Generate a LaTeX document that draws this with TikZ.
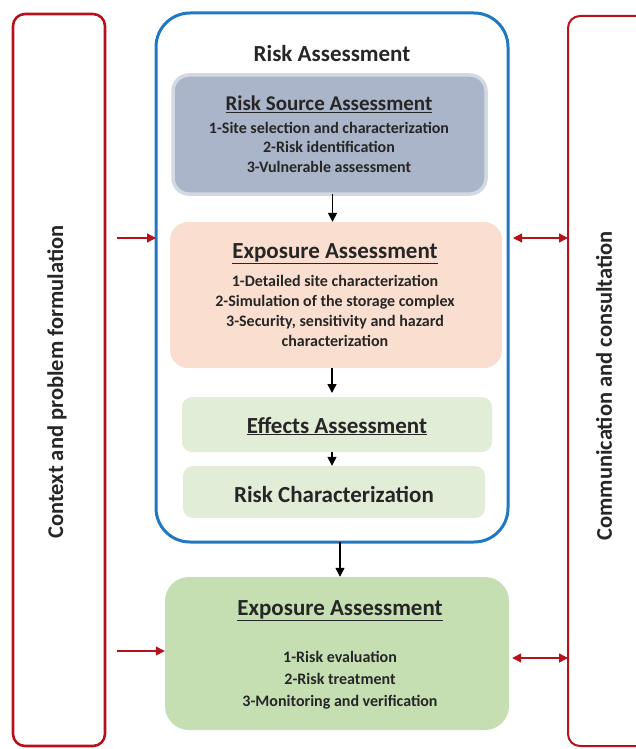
\documentclass[tikz,border=0pt]{standalone}
\usepackage{fontspec}
\setmainfont{Carlito}
\usetikzlibrary{arrows.meta}
\definecolor{redline}{HTML}{B5121B}
\definecolor{blueline}{HTML}{1E78C2}
\definecolor{srcfill}{HTML}{ABB5C9}
\definecolor{srcborder}{HTML}{D3D9E3}
\definecolor{expfill}{HTML}{FADFD0}
\definecolor{effill}{HTML}{E2EDD8}
\definecolor{bgreen}{HTML}{C5DFB3}
\begin{document}
\begin{tikzpicture}[x=1pt,y=-1pt,
  every node/.style={font=\bfseries, text=black!85},
  hd/.style={font=\bfseries\fontsize{23}{25}\selectfont},
  it/.style={font=\bfseries\fontsize{16}{20}\selectfont, align=center},
  blk/.style={-{Triangle[length=9pt,width=9pt]}, line width=1.5pt, black},
  redar/.style={-{Triangle[length=9pt,width=9pt]}, line width=1.3pt, redline},
  redbi/.style={{Triangle[length=9pt,width=9pt]}-{Triangle[length=9pt,width=9pt]}, line width=1.3pt, redline}]
\useasboundingbox (0,0) rectangle (636,749);
\begin{scope}
\clip (0,0) rectangle (636,749);
% side boxes
\draw[redline, line width=2.6pt, rounded corners=12pt] (13,14) rectangle (105,746);
\draw[redline, line width=2pt, rounded corners=12pt] (568,16) rectangle (660,746);
\end{scope}
\coordinate (L1) at (105,238);
\coordinate (L2) at (105,651);
\coordinate (R1) at (568,238);
\coordinate (R2) at (568,658);
\node[rotate=90, font=\bfseries\fontsize{22.5}{24}\selectfont] (ctx) at (57,382) {Context and problem formulation};
\node[rotate=90, font=\bfseries\fontsize{22.5}{24}\selectfont] (com) at (604,386) {Communication and consultation};
% blue container
\draw[blueline, line width=3pt, rounded corners=34pt] (156,13) rectangle (508,542);
\coordinate (bl) at (156,238);
\coordinate (br) at (508,238);
\coordinate (bb) at (340,542);
\node[font=\bfseries\fontsize{23}{25}\selectfont] (ra) at (332,54) {Risk Assessment};
% risk source
\draw[srcborder, fill=srcfill, line width=3.5pt, rounded corners=16pt] (173,75) rectangle (486,194);
\node (srcbox) at (329.5,134.5) [minimum width=313pt, minimum height=119pt] {};
\node[font=\bfseries\fontsize{21}{23}\selectfont] (srch) at (329,104) {\underline{Risk Source Assessment}};
\node[it, font=\bfseries\fontsize{16}{19.5}\selectfont] (srct) at (329,147) {1-Site selection and characterization\\2-Risk identification\\3-Vulnerable assessment};
% exposure
\node[fill=expfill, rounded corners=18pt, minimum width=332pt, minimum height=146pt] (exp) at (336,295) {};
\node[hd] (exph) at (335,254) {\underline{Exposure Assessment}};
\node[it] (expt) at (335,311) {1-Detailed site characterization\\2-Simulation of the storage complex\\3-Security, sensitivity and hazard\\characterization};
% effects
\node[fill=effill, rounded corners=10pt, minimum width=310pt, minimum height=55pt] (eff) at (337,424.5) {};
\node[hd] (effh) at (337,426) {\underline{Effects Assessment}};
% risk char
\node[fill=effill, rounded corners=10pt, minimum width=302pt, minimum height=52pt] (rc) at (334,492) {};
\node[hd] (rch) at (334,494) {Risk Characterization};
% bottom green
\node[fill=bgreen, rounded corners=24pt, minimum width=344pt, minimum height=153pt] (bot) at (337,653.5) {};
\node[hd] (both) at (340,611) {\underline{Exposure Assessment}};
\node[it, font=\bfseries\fontsize{16}{22}\selectfont] (bott) at (340,680) {1-Risk evaluation\\2-Risk treatment\\3-Monitoring and verification};
% black arrows
\draw[blk] (srcbox.south) ++(3,0) coordinate (a1) -- (a1 |- exp.north);
\draw[blk] (332,368) -- (332,393);
\draw[blk] (332,452) -- (rc.north -| 332,0);
\draw[blk] (bb) -- (bb |- bot.north);
% red arrows
\draw[redar] (117,238) -- (bl);
\draw[redar] (117,651) -- (bot.west |- L2);
\draw[redbi] (br) ++(5,0) -- (R1);
\draw[redbi] (bot.east |- R2) ++(3,0) -- (R2);
\end{tikzpicture}
\end{document}
